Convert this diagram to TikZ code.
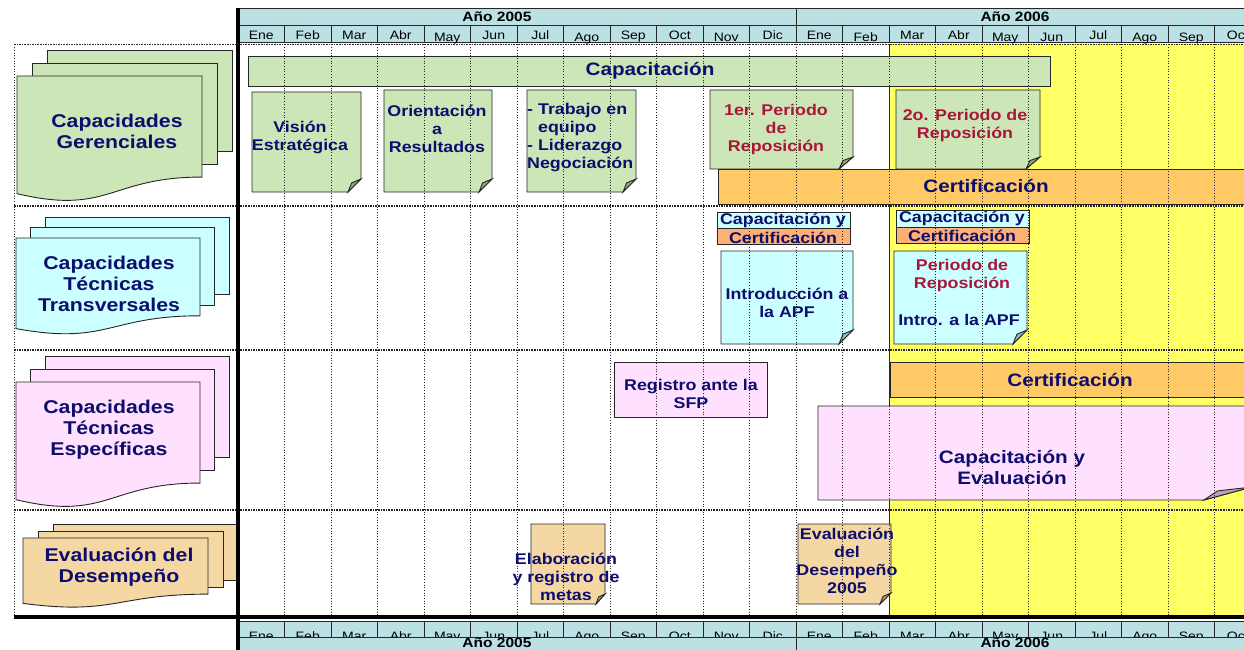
\documentclass[tikz,border=0pt]{standalone}
\usepackage{fontspec}
\setmainfont{Liberation Sans}[FakeStretch=1.15]
\definecolor{cgreen}{HTML}{CCE6B8}
\definecolor{ccyan}{HTML}{CCFFFF}
\definecolor{cpink}{HTML}{FFE1FF}
\definecolor{ctan}{HTML}{F5D7A3}
\definecolor{corange}{HTML}{FFCA66}
\definecolor{csalmon}{HTML}{FFB075}
\definecolor{chdr}{HTML}{BCE1E5}
\definecolor{cyellow}{HTML}{FFFF66}
\definecolor{cnavy}{HTML}{0D0D6E}
\definecolor{cred}{HTML}{A8163A}
\newcommand\fBig{\fontsize{18.5}{21}\selectfont\bfseries}
\newcommand\fBar{\fontsize{18}{21}\selectfont\bfseries}
\newcommand\fNote{\fontsize{15.5}{18}\selectfont\bfseries}
\newcommand\fMon{\fontsize{12.2}{13}\selectfont}
\newcommand\fYear{\fontsize{13.5}{15}\selectfont\bfseries}
% multi document shape: x y W H dx dy color
\newcommand{\mdoc}[7]{%
  \draw[box, fill=#7] (#1+2*#5,#2-2*#6) rectangle ++(#3,0.802*#4);
  \draw[box, fill=#7] (#1+#5,#2-#6) rectangle ++(#3,0.802*#4);
  \draw[box, fill=#7] (#1,#2) -- ++(#3,0) -- ++(0,0.802*#4)
     .. controls +(-0.5*#3,0) and (#1+0.5*#3,#2+1.107*#4) .. (#1,#2+0.934*#4) -- cycle;
}
% folded corner note: x1 y1 x2 y2 fill fx fy
\newcommand{\fnote}[7]{%
  \draw[box, fill=#5] (#1,#2) -- (#3,#2) -- (#3,#4-#7) -- (#3-#6,#4) -- (#1,#4) -- cycle;
  \draw[box, fill=#5!72!black] (#3-#6,#4) -- (#3-0.72*#6,#4-0.7*#7) -- (#3,#4-#7) -- cycle;
}
\begin{document}
\begin{tikzpicture}[x=1pt,y=-1pt,
  box/.style={draw=black!85, line width=0.9pt},
  grid/.style={draw=black!85, line width=0.7pt, dotted},
  rowsep/.style={draw=black!85, line width=1.6pt, densely dotted},
  hline/.style={draw=black!85, line width=0.9pt},
  lbl/.style={inner sep=0pt, align=center, text=cnavy, font=\fBig},
  bartxt/.style={inner sep=0pt, text=cnavy, font=\fBar},
  ntxt/.style={inner sep=0pt, align=center, text=cnavy, font=\fNote},
  rtxt/.style={ntxt, text=cred},
  mon/.style={inner sep=0pt, anchor=base, font=\fMon, text=black},
  yr/.style={inner sep=0pt, font=\fYear, text=black}]
\useasboundingbox (0,0) rectangle (1244,650);
\clip (0,0) rectangle (1244,650);
\fill[white] (0,0) rectangle (1244,650);

% yellow region
\fill[cyellow] (889,44.5) rectangle (1250,615);
\draw[hline] (889,44.5) -- (889,615);

% ---------- Row 1
\draw[box, fill=cgreen] (248,56) rectangle (1050,86);
\fnote{252}{92}{361}{192}{cgreen}{13}{13}
\fnote{384}{90}{492}{192}{cgreen}{13}{13}
\fnote{527}{90}{636}{192}{cgreen}{13}{13}
\fnote{710}{90}{853}{169}{cgreen}{14}{12}
\fnote{896}{90}{1040}{169}{cgreen}{14}{12}
\draw[box, fill=corange] (718,169) rectangle (1252,204);

% ---------- Row 2
\draw[box, fill=ccyan] (717,212) rectangle (850,228);
\draw[box, fill=csalmon] (717,228) rectangle (850,244);
\draw[box, fill=ccyan] (896,210) rectangle (1029,227);
\draw[box, fill=csalmon] (896,227) rectangle (1029,243);
\fnote{721}{251}{853}{344}{ccyan}{14}{14}
\fnote{894}{251}{1027}{344}{ccyan}{14}{14}

% ---------- Row 3
\draw[box, fill=corange] (890,362) rectangle (1252,397);
\draw[box, fill=cpink] (614,362) rectangle (767,417);
\fnote{818}{406}{1252}{500}{cpink}{48}{13}

% ---------- Row 4
\fnote{531}{524}{605}{604}{ctan}{9}{10}
\fnote{798}{524}{891}{604}{ctan}{11}{11}

% grid lines
\foreach \k in {1,...,21}
  \draw[grid] ({238+46.5*\k},44.5) -- ({238+46.5*\k},615);

% row separators
\foreach \yy in {44.5,206,350,510}
  \draw[rowsep] (14,\yy) -- (1250,\yy);
\draw[grid] (14,44.5) -- (14,615);

% ---------- chart texts
\node[bartxt] (tcap) at (650,71) {Capacitación};
\node[ntxt] (tvis) at (300,137) {Visión\\Estratégica};
\node[ntxt] (tori) at (437,129) {Orientación\\a\\Resultados};
\node[ntxt, align=left, anchor=west] (ttra) at (527,138) {- Trabajo en\\\hphantom{-~}equipo\\- Liderazgo\\Negociación};
\node[rtxt] (tp1) at (776,129) {1er. Periodo\\de\\Reposición};
\node[rtxt] (tp2) at (965,125) {2o. Periodo de\\Reposición};
\node[bartxt] (tcert1) at (986,186) {Certificación};

\node[ntxt] (tcy1) at (783,220) {Capacitación y};
\node[ntxt] (tce1) at (783,237.5) {Certificación};
\node[ntxt] (tcy2) at (962,218) {Capacitación y};
\node[ntxt] (tce2) at (962,235.5) {Certificación};
\node[ntxt] (tintro) at (787,303) {Introducción a\\la APF};
\node[rtxt] (tper) at (962,275) {Periodo de\\Reposición};
\node[ntxt] (tintro2) at (959,320) {Intro. a la APF};

\node[bartxt] (tcert2) at (1070,380) {Certificación};
\node[ntxt] (treg) at (691,394) {Registro ante la\\SFP};
\node[lbl, font=\fBar] (tcapev) at (1012,467) {Capacitación y\\Evaluación};

\node[ntxt] (telab) at (566,577) {Elaboración\\y registro de\\metas};
\node[ntxt] (teval) at (847,561) {Evaluación\\del\\Desempeño\\2005};

% ---------- left panel
\mdoc{17}{76}{185}{126}{15}{13}{cgreen}
\mdoc{16}{238}{184}{97}{14.5}{10.5}{ccyan}
\mdoc{16}{382}{184}{126}{14.5}{13}{cpink}
\mdoc{23}{538}{185}{70}{15}{7}{ctan}
\node[lbl] (l1) at (117,131.5) {Capacidades\\Gerenciales};
\node[lbl] (l2) at (109,284) {Capacidades\\Técnicas\\Transversales};
\node[lbl] (l3) at (109,430) {Capacidades\\Técnicas\\Específicas};
\node[lbl] (l4) at (119,567) {Evaluación del\\Desempeño};

% ---------- top header
\fill[chdr] (238,8) rectangle (1250,42.5);
\draw[hline] (238,8) -- (1250,8);
\draw[hline] (238,25) -- (1250,25);
\draw[hline] (238,42.5) -- (1250,42.5);
\draw[hline] (796,8) -- (796,42.5);
\foreach \k in {1,...,21}
  \draw[hline] ({238+46.5*\k},25) -- ({238+46.5*\k},42.5);
\node[yr] (y05) at (497,16.5) {Año 2005};
\node[yr] (y06) at (1015,16.5) {Año 2006};
\foreach \m/\dy [count=\i from 0] in {Ene/0,Feb/0,Mar/0,Abr/0,May/2,Jun/0,Jul/0,Ago/2,Sep/0,Oct/0,Nov/2,Dic/0,Ene/0,Feb/2,Mar/0,Abr/0,May/2,Jun/2,Jul/0,Ago/2,Sep/2,Oct/0}
  \node[mon] (mt\i) at ({261.25+46.5*\i},39.5+\dy) {\m};

% ---------- bottom header
\fill[chdr] (238,621.5) rectangle (1250,650);
\foreach \m [count=\i from 0] in {Ene,Feb,Mar,Abr,May,Jun,Jul,Ago,Sep,Oct,Nov,Dic,Ene,Feb,Mar,Abr,May,Jun,Jul,Ago,Sep,Oct}
  \node[mon] (mb\i) at ({261.25+46.5*\i},640) {\m};
\fill[chdr] (238,637.5) rectangle (1250,650);
\draw[hline] (238,621.5) -- (1250,621.5);
\draw[hline] (238,637.5) -- (1250,637.5);
\foreach \k in {1,...,21}
  \draw[hline] ({238+46.5*\k},621.5) -- ({238+46.5*\k},637.5);
\draw[hline] (796,621.5) -- (796,650);
\node[yr, anchor=base] (yb05) at (497,647.5) {Año 2005};
\node[yr, anchor=base] (yb06) at (1015,647.5) {Año 2006};

% thick frame lines
\draw[line width=4pt] (238,8) -- (238,650);
\draw[line width=4pt] (14,617) -- (1250,617);
\end{tikzpicture}
\end{document}
